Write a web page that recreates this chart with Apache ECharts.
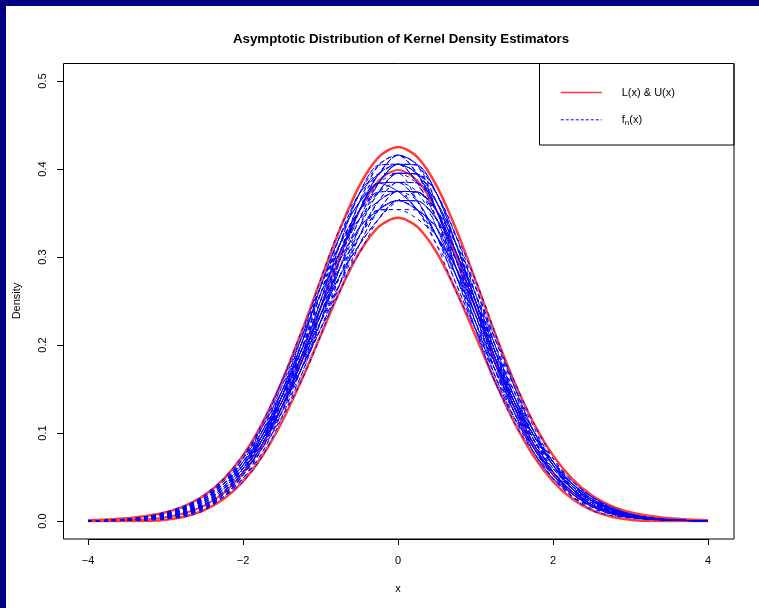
<!DOCTYPE html>
<html><head><meta charset="utf-8">
<script src="https://cdn.jsdelivr.net/npm/echarts@6/dist/echarts.min.js"></script>
<style>html,body{margin:0;padding:0;background:#fff}#c{width:759px;height:608px}</style>
</head><body><div id="c"></div>
<script>
const xValues = [-4,-3.75,-3.5,-3.25,-3,-2.75,-2.5,-2.25,-2,-1.75,-1.5,-1.25,-1,-0.75,-0.5,-0.25,0,0.25,0.5,0.75,1,1.25,1.5,1.75,2,2.25,2.5,2.75,3,3.25,3.5,3.75,4];
const xTicks = [-4,-2,0,2,4];
const yTicks = [0,0.1,0.2,0.3,0.4,0.5];

const upperU = [.0009,.0017,.0031,.0056,.0099,.0173,.0292,.0477,.0746,.1113,.1582,.2136,.2734,.3315,.3806,.4135,.4251,.4135,.3806,.3315,.2734,.2136,.1582,.1113,.0746,.0477,.0292,.0173,.0099,.0056,.0031,.0017,.0009];
const lowerL = [-.0005,-.0007,-.0007,-.0002,.0014,.0051,.0123,.0249,.0449,.0738,.1123,.1590,.2106,.2615,.3049,.3342,.3445,.3342,.3049,.2615,.2106,.1590,.1123,.0738,.0449,.0249,.0123,.0051,.0014,-.0002,-.0007,-.0007,-.0005];
const trueDensity = [.0001,.0004,.0009,.0020,.0044,.0091,.0175,.0317,.0540,.0863,.1295,.1826,.2420,.3011,.3521,.3867,.3989,.3867,.3521,.3011,.2420,.1826,.1295,.0863,.0540,.0317,.0175,.0091,.0044,.0020,.0009,.0004,.0001];

const fn1 = [.0002,.0005,.0012,.0019,.0046,.0081,.0165,.0305,.0521,.0830,.1294,.1793,.2420,.3055,.3524,.3941,.4054,.3941,.3620,.3055,.2500,.1933,.1412,.0974,.0635,.0392,.0230,.0112,.0057,.0027,.0012,.0005,.0002];
const fn2 = [.0002,.0008,.0017,.0035,.0079,.0143,.0251,.0392,.0635,.0974,.1353,.1863,.2340,.2875,.3234,.3535,.3642,.3535,.3330,.2875,.2420,.1863,.1353,.0878,.0559,.0334,.0165,.0081,.0046,.0019,.0012,.0005,.0002];
const fn3 = [.0002,.0005,.0012,.0027,.0057,.0096,.0186,.0334,.0597,.0974,.1470,.2002,.2660,.3234,.3620,.3840,.3951,.3840,.3620,.3144,.2660,.2002,.1412,.0926,.0559,.0334,.0186,.0096,.0057,.0027,.0012,.0005,.0002];
const fn4 = [.0002,.0005,.0007,.0019,.0046,.0096,.0208,.0363,.0635,.0974,.1412,.1863,.2340,.2786,.3137,.3433,.3642,.3636,.3427,.2965,.2500,.1933,.1353,.0926,.0597,.0392,.0230,.0128,.0068,.0035,.0012,.0005,.0002];
const fn5 = [.0002,.0008,.0017,.0042,.0079,.0159,.0273,.0450,.0673,.1022,.1412,.1863,.2340,.2875,.3427,.3840,.4054,.4043,.3717,.3144,.2500,.1863,.1294,.0830,.0521,.0276,.0143,.0081,.0035,.0019,.0007,.0005,.0002];
const fn6 = [.0002,.0005,.0007,.0019,.0035,.0081,.0143,.0276,.0483,.0830,.1236,.1793,.2420,.3055,.3620,.4043,.4157,.4043,.3717,.3144,.2580,.1933,.1412,.1022,.0673,.0421,.0251,.0128,.0068,.0035,.0012,.0005,.0002];
const fn7 = [.0002,.0005,.0012,.0035,.0068,.0128,.0230,.0363,.0597,.0878,.1236,.1724,.2340,.2965,.3524,.3840,.3848,.3636,.3234,.2696,.2180,.1724,.1294,.0926,.0597,.0363,.0208,.0096,.0046,.0019,.0012,.0005,.0002];
const fn8 = [.0002,.0008,.0022,.0042,.0090,.0159,.0251,.0421,.0635,.0974,.1412,.1933,.2420,.2875,.3234,.3535,.3539,.3535,.3234,.2875,.2340,.1863,.1412,.0974,.0673,.0421,.0273,.0159,.0079,.0042,.0017,.0008,.0002];
const fn9 = [.0002,.0005,.0012,.0027,.0046,.0096,.0208,.0363,.0635,.1022,.1529,.2072,.2580,.3055,.3427,.3738,.3951,.3941,.3524,.2965,.2340,.1724,.1236,.0830,.0559,.0334,.0208,.0112,.0057,.0027,.0012,.0005,.0002];
const fn10 = [.0002,.0002,.0007,.0012,.0035,.0081,.0186,.0334,.0597,.0926,.1294,.1724,.2180,.2696,.3234,.3636,.3745,.3535,.3234,.2875,.2420,.1933,.1470,.1022,.0673,.0392,.0230,.0112,.0057,.0027,.0012,.0005,.0002];
const fn11 = [.0002,.0005,.0017,.0035,.0068,.0112,.0208,.0334,.0559,.0926,.1412,.2002,.2580,.3055,.3524,.3941,.4157,.3941,.3524,.2965,.2420,.1793,.1294,.0926,.0635,.0392,.0251,.0143,.0068,.0035,.0017,.0005,.0002];
const fn12 = [.0002,.0005,.0012,.0019,.0046,.0096,.0165,.0305,.0559,.0926,.1412,.1933,.2420,.2875,.3330,.3535,.3642,.3636,.3427,.3055,.2500,.1933,.1353,.0878,.0521,.0305,.0165,.0096,.0046,.0019,.0012,.0005,.0002];
const fn13 = [.0002,.0008,.0017,.0035,.0068,.0143,.0251,.0450,.0711,.1022,.1412,.1863,.2340,.2786,.3234,.3636,.3848,.3840,.3620,.3144,.2500,.1863,.1353,.0974,.0635,.0363,.0186,.0096,.0057,.0027,.0012,.0005,.0002];
const fn14 = [.0002,.0005,.0012,.0027,.0057,.0112,.0230,.0392,.0597,.0878,.1294,.1863,.2500,.3144,.3717,.4043,.4054,.3941,.3524,.3055,.2420,.1793,.1236,.0782,.0483,.0305,.0165,.0096,.0046,.0027,.0012,.0005,.0002];
const fn15 = [.0002,.0005,.0007,.0019,.0046,.0081,.0165,.0334,.0559,.0926,.1353,.1933,.2580,.3144,.3524,.3738,.3745,.3636,.3234,.2786,.2260,.1793,.1353,.0974,.0635,.0421,.0251,.0128,.0068,.0027,.0012,.0005,.0002];
const fn16 = [.0002,.0005,.0012,.0035,.0068,.0143,.0251,.0421,.0635,.0926,.1294,.1724,.2260,.2875,.3427,.3840,.4054,.4043,.3717,.3234,.2580,.1933,.1353,.0926,.0559,.0334,.0208,.0112,.0057,.0027,.0012,.0005,.0002];
const fn17 = [.0002,.0002,.0007,.0019,.0035,.0065,.0143,.0276,.0521,.0878,.1353,.1863,.2500,.3055,.3427,.3636,.3745,.3738,.3524,.3144,.2660,.2072,.1529,.1022,.0673,.0392,.0230,.0128,.0068,.0027,.0012,.0005,.0002];
const fn18 = [.0002,.0008,.0017,.0042,.0079,.0128,.0230,.0363,.0597,.0926,.1412,.1933,.2420,.2965,.3524,.3941,.4054,.3840,.3427,.2875,.2340,.1724,.1177,.0782,.0483,.0305,.0165,.0096,.0046,.0019,.0012,.0005,.0002];
const fn19 = [.0002,.0005,.0012,.0027,.0068,.0128,.0251,.0421,.0673,.1022,.1412,.1863,.2340,.2786,.3137,.3433,.3642,.3535,.3330,.2875,.2420,.1863,.1353,.0926,.0635,.0392,.0230,.0128,.0057,.0027,.0012,.0005,.0002];
const fn20 = [.0002,.0005,.0007,.0019,.0046,.0112,.0208,.0392,.0635,.0926,.1294,.1793,.2420,.3144,.3717,.3941,.3951,.3941,.3717,.3144,.2500,.1863,.1353,.0974,.0673,.0421,.0230,.0112,.0057,.0027,.0012,.0005,.0002];
const fn21 = [.0002,.0008,.0022,.0051,.0090,.0160,.0274,.0450,.0673,.0974,.1353,.1793,.2260,.2785,.3330,.3738,.3951,.3942,.3621,.3055,.2420,.1793,.1235,.0782,.0483,.0276,.0164,.0096,.0057,.0027,.0012,.0005,.0002];
const fn22 = [.0002,.0005,.0007,.0011,.0024,.0064,.0142,.0305,.0559,.0926,.1412,.2003,.2660,.3235,.3621,.3840,.3745,.3534,.3136,.2785,.2340,.1863,.1412,.1022,.0711,.0450,.0274,.0144,.0068,.0035,.0012,.0005,.0002];
const fn23 = [.0002,.0005,.0012,.0035,.0079,.0144,.0230,.0363,.0559,.0830,.1176,.1653,.2260,.2965,.3621,.3942,.4157,.4044,.3524,.2965,.2340,.1793,.1353,.0974,.0635,.0363,.0186,.0096,.0046,.0027,.0012,.0005,.0002];
const fn24 = [.0002,.0002,.0007,.0019,.0035,.0080,.0164,.0276,.0483,.0782,.1235,.1793,.2420,.3055,.3524,.3738,.3745,.3738,.3524,.3145,.2660,.2073,.1530,.1022,.0635,.0363,.0208,.0112,.0046,.0019,.0012,.0005,.0002];
const fn25 = [.0002,.0005,.0017,.0035,.0068,.0144,.0252,.0421,.0711,.1070,.1530,.2003,.2500,.2965,.3330,.3534,.3539,.3432,.3233,.2875,.2420,.1863,.1294,.0830,.0521,.0305,.0186,.0096,.0057,.0027,.0012,.0005,.0002];
const fn26 = [.0002,.0005,.0012,.0027,.0046,.0096,.0164,.0305,.0521,.0878,.1353,.1933,.2580,.3145,.3524,.3840,.4054,.3942,.3524,.3055,.2580,.2003,.1412,.0926,.0559,.0305,.0164,.0080,.0046,.0019,.0012,.0005,.0002];
const fn27 = [.0002,.0008,.0017,.0043,.0079,.0128,.0208,.0363,.0635,.1022,.1471,.1933,.2340,.2785,.3136,.3432,.3642,.3738,.3524,.3145,.2500,.1863,.1294,.0878,.0597,.0392,.0252,.0144,.0079,.0035,.0017,.0005,.0002];
const fn28 = [.0002,.0005,.0007,.0019,.0057,.0112,.0230,.0421,.0711,.1070,.1471,.2003,.2660,.3235,.3718,.3942,.4054,.3840,.3427,.2875,.2260,.1653,.1176,.0830,.0521,.0334,.0186,.0112,.0057,.0027,.0012,.0005,.0002];
const fn29 = [.0002,.0005,.0012,.0019,.0046,.0080,.0142,.0276,.0521,.0878,.1294,.1723,.2180,.2695,.3233,.3636,.3848,.3636,.3233,.2695,.2180,.1723,.1294,.0878,.0597,.0392,.0230,.0128,.0057,.0027,.0012,.0005,.0002];
const fn30 = [.0002,.0008,.0017,.0035,.0079,.0160,.0274,.0421,.0635,.0974,.1471,.2073,.2660,.3145,.3524,.3738,.3848,.3840,.3621,.3145,.2500,.1863,.1353,.0974,.0673,.0450,.0274,.0144,.0079,.0035,.0017,.0005,.0002];
const fn31 = [.0002,.0005,.0012,.0027,.0057,.0096,.0186,.0334,.0597,.0926,.1294,.1723,.2260,.2875,.3524,.3942,.3951,.3636,.3233,.2875,.2500,.2003,.1471,.0974,.0635,.0363,.0186,.0096,.0046,.0027,.0012,.0005,.0002];
const fn32 = [.0002,.0002,.0007,.0011,.0035,.0080,.0186,.0363,.0635,.0974,.1353,.1793,.2340,.2965,.3524,.3840,.3745,.3534,.3233,.2785,.2340,.1723,.1235,.0878,.0597,.0363,.0230,.0128,.0068,.0027,.0012,.0005,.0002];
const fn33 = [.0002,.0008,.0022,.0051,.0101,.0176,.0274,.0421,.0635,.0926,.1294,.1723,.2180,.2785,.3330,.3738,.3951,.3942,.3718,.3235,.2580,.1933,.1353,.0878,.0521,.0276,.0120,.0064,.0035,.0019,.0012,.0005,.0002];
const fn34 = [.0002,.0005,.0007,.0011,.0024,.0048,.0120,.0276,.0521,.0878,.1412,.2003,.2660,.3235,.3621,.3840,.4054,.4044,.3718,.3145,.2500,.1863,.1294,.0926,.0635,.0421,.0274,.0160,.0079,.0035,.0012,.0005,.0002];
const fn35 = [.0002,.0005,.0017,.0035,.0079,.0144,.0274,.0479,.0749,.1070,.1471,.1863,.2260,.2695,.3136,.3534,.3642,.3534,.3330,.2965,.2500,.2003,.1530,.1070,.0673,.0392,.0208,.0096,.0046,.0027,.0012,.0005,.0002];
const fn36 = [.0002,.0005,.0012,.0019,.0046,.0080,.0164,.0334,.0597,.0974,.1471,.2073,.2740,.3325,.3718,.3942,.4157,.4044,.3621,.3055,.2420,.1793,.1235,.0782,.0483,.0305,.0186,.0112,.0068,.0035,.0012,.0005,.0002];
const fn37 = [.0002,.0008,.0017,.0043,.0079,.0144,.0230,.0363,.0559,.0830,.1176,.1583,.2100,.2695,.3330,.3840,.4054,.3942,.3524,.2875,.2260,.1723,.1294,.0974,.0673,.0450,.0274,.0144,.0068,.0035,.0012,.0005,.0002];
const fn38 = [.0002,.0005,.0012,.0027,.0068,.0144,.0274,.0450,.0673,.0926,.1235,.1653,.2260,.2965,.3621,.4044,.4157,.3942,.3427,.2785,.2180,.1583,.1176,.0830,.0559,.0363,.0230,.0128,.0057,.0027,.0012,.0005,.0002];
const fn39 = [.0002,.0002,.0007,.0019,.0035,.0064,.0142,.0305,.0559,.0926,.1353,.1933,.2580,.3235,.3718,.4044,.4157,.4044,.3718,.3235,.2660,.2003,.1412,.0974,.0673,.0421,.0252,.0128,.0068,.0027,.0012,.0005,.0002];
const fn40 = [.0002,.0008,.0017,.0043,.0090,.0160,.0252,.0392,.0597,.0878,.1294,.1793,.2420,.2965,.3330,.3534,.3642,.3636,.3427,.3055,.2500,.1863,.1294,.0830,.0483,.0276,.0164,.0080,.0046,.0019,.0012,.0005,.0002];
const fn41 = [.0002,.0005,.0012,.0035,.0068,.0112,.0186,.0305,.0483,.0782,.1235,.1863,.2500,.3145,.3524,.3738,.3951,.3942,.3524,.2875,.2180,.1583,.1117,.0782,.0521,.0334,.0186,.0112,.0057,.0027,.0012,.0005,.0002];
const fn42 = [.0002,.0005,.0017,.0043,.0079,.0160,.0274,.0450,.0711,.1118,.1589,.2073,.2580,.3055,.3524,.3942,.4157,.3942,.3524,.2965,.2420,.1933,.1471,.1022,.0635,.0363,.0208,.0112,.0057,.0027,.0012,.0005,.0002];
const fn43 = [.0002,.0002,.0007,.0019,.0046,.0096,.0164,.0276,.0445,.0734,.1176,.1723,.2340,.2875,.3233,.3534,.3745,.3738,.3524,.3055,.2580,.2073,.1589,.1118,.0711,.0421,.0230,.0128,.0068,.0035,.0012,.0005,.0002];
const fn44 = [.0002,.0005,.0017,.0035,.0068,.0128,.0252,.0421,.0673,.0974,.1353,.1793,.2260,.2695,.3039,.3432,.3642,.3534,.3136,.2605,.2180,.1793,.1353,.0974,.0635,.0421,.0252,.0144,.0068,.0035,.0012,.0005,.0002];
const fn45 = [.0002,.0005,.0012,.0027,.0046,.0096,.0208,.0392,.0673,.1070,.1589,.2143,.2660,.3145,.3427,.3636,.3745,.3738,.3524,.3235,.2740,.2143,.1530,.1022,.0635,.0363,.0186,.0096,.0046,.0027,.0012,.0005,.0002];
const fn46 = [.0002,.0008,.0022,.0043,.0090,.0160,.0274,.0421,.0673,.0974,.1412,.2003,.2660,.3145,.3524,.3840,.3848,.3738,.3330,.2785,.2260,.1793,.1353,.0926,.0559,.0305,.0164,.0096,.0057,.0027,.0012,.0005,.0002];
const fn47 = [.0002,.0005,.0007,.0019,.0035,.0080,.0142,.0276,.0483,.0830,.1294,.1723,.2180,.2605,.3136,.3534,.3745,.3738,.3427,.2875,.2260,.1653,.1176,.0830,.0559,.0334,.0186,.0096,.0057,.0027,.0012,.0005,.0002];
const fn48 = [.0002,.0005,.0012,.0035,.0079,.0160,.0296,.0479,.0711,.1022,.1412,.1933,.2500,.3145,.3718,.4044,.4054,.3840,.3330,.2785,.2180,.1653,.1235,.0830,.0559,.0363,.0230,.0144,.0079,.0035,.0017,.0005,.0002];
const fnCurves = [fn1,fn2,fn3,fn4,fn5,fn6,fn7,fn8,fn9,fn10,fn11,fn12,fn13,fn14,fn15,fn16,fn17,fn18,fn19,fn20,fn21,fn22,fn23,fn24,
  fn25,fn26,fn27,fn28,fn29,fn30,fn31,fn32,fn33,fn34,fn35,fn36,fn37,fn38,fn39,fn40,fn41,fn42,fn43,fn44,fn45,fn46,fn47,fn48];

const FONT = '"Liberation Sans", Arial, Helvetica, sans-serif';
const RED = '#ff3a3a', BLUE = '#0000ff';
function pairs(ys){ return xValues.map((x,i)=>[x, ys[i]]); }

const series = [];
series.push({name:'truth', type:'line', data:pairs(trueDensity), symbol:'none', smooth:0.3, color:RED,
  lineStyle:{color:RED, width:2}, silent:true, z:2});
series.push({name:'LU', type:'line', data:pairs(upperU), symbol:'none', smooth:0.3, color:RED,
  lineStyle:{color:RED, width:2.5}, silent:true, z:2});
series.push({name:'LU', type:'line', data:pairs(lowerL), symbol:'none', smooth:0.3, color:RED,
  lineStyle:{color:RED, width:2.5}, silent:true, z:2});
fnCurves.forEach(c => series.push({name:'fn', type:'line', data:pairs(c), symbol:'none', smooth:0.3, color:BLUE,
  lineStyle:{color:BLUE, width:1, type:[4,4]}, silent:true, z:3}));

const chart = echarts.init(document.getElementById('c'), null, {renderer:'canvas'});
chart.setOption({
  animation:false,
  backgroundColor:'#ffffff',
  textStyle:{fontFamily:FONT},
  title:{text:'Asymptotic Distribution of Kernel Density Estimators', left:396, top:28, textAlign:'center',
    textStyle:{fontFamily:FONT, fontSize:13.3, fontWeight:'bold', color:'#000'}},
  grid:{left:88, right:51, top:81, bottom:87, containLabel:false},
  xAxis:{type:'value', min:-4, max:4, interval:2, offset:18,
    name:'x', nameLocation:'middle', nameGap:44, nameTextStyle:{fontFamily:FONT, fontSize:11, color:'#000'},
    axisLine:{show:true, onZero:false, lineStyle:{color:'#000', width:1}},
    axisTick:{show:true, length:6, lineStyle:{color:'#000'}},
    axisLabel:{margin:16, fontFamily:FONT, fontSize:11, color:'#000', formatter:v=>v<0?'\u2212'+Math.abs(v):String(v)},
    splitLine:{show:false}},
  yAxis:{type:'value', min:0, max:0.5, interval:0.1, offset:25,
    name:'Density', nameLocation:'middle', nameGap:41, nameRotate:90, nameTextStyle:{fontFamily:FONT, fontSize:11, color:'#000'},
    axisLine:{show:true, onZero:false, lineStyle:{color:'#000', width:1}},
    axisTick:{show:true, length:6, lineStyle:{color:'#000'}},
    axisLabel:{margin:15, rotate:90, fontFamily:FONT, fontSize:11, color:'#000', formatter:v=>v.toFixed(1)},
    splitLine:{show:false}},
  legend:{show:true, orient:'vertical', left:560, top:87, padding:0, itemWidth:41, itemHeight:14, itemGap:16,
    selectedMode:false,
    itemStyle:{color:'rgba(0,0,0,0)', borderWidth:0, opacity:0},
    data:[{name:'LU', lineStyle:{width:1.5}}, {name:'fn', lineStyle:{width:1, type:[3,2]}}],
    formatter:n => n==='LU' ? '{t|L(x) & U(x)}' : '{t|f}{s|n}{r|(x)}',
    textStyle:{fontFamily:FONT, fontSize:11, color:'#000',
      rich:{t:{fontFamily:FONT, fontSize:11, padding:[0,0,0,15]}, s:{fontFamily:FONT, fontSize:8, padding:[5,0,0,0]}, r:{fontFamily:FONT, fontSize:11}}}},
  graphic:[
    {type:'rect', shape:{x:63.5, y:63.5, width:670.5, height:475.5}, style:{fill:'none', stroke:'#000', lineWidth:1}, z:10, silent:true},
    {type:'rect', shape:{x:539.5, y:63.5, width:194.5, height:81.5}, style:{fill:'none', stroke:'#000', lineWidth:1}, z:10, silent:true},
    {type:'rect', shape:{x:0, y:0, width:759, height:6}, style:{fill:'#000080'}, z:20, silent:true},
    {type:'rect', shape:{x:0, y:0, width:6, height:608}, style:{fill:'#000080'}, z:20, silent:true}
  ],
  series:series
});
</script></body></html>
